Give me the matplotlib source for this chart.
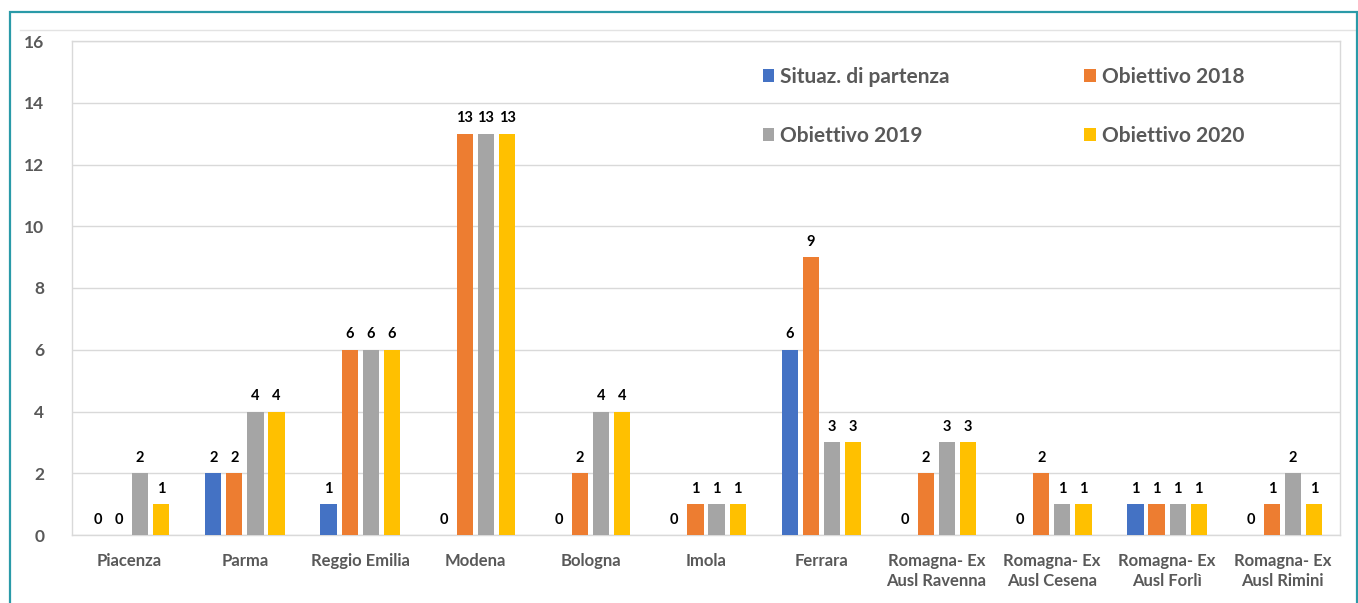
import matplotlib
matplotlib.use("Agg")
import matplotlib.pyplot as plt
import numpy as np
from matplotlib.patches import Rectangle
from matplotlib.lines import Line2D

categories = ["Piacenza", "Parma", "Reggio Emilia", "Modena", "Bologna", "Imola",
              "Ferrara", "Romagna- Ex\nAusl Ravenna", "Romagna- Ex\nAusl Cesena",
              "Romagna- Ex\nAusl Forlì", "Romagna- Ex\nAusl Rimini"]
series_names = ["Situaz. di partenza", "Obiettivo 2018", "Obiettivo 2019", "Obiettivo 2020"]
situaz = [0, 2, 1, 0, 0, 0, 6, 0, 0, 1, 0]
ob2018 = [0, 2, 6, 13, 2, 1, 9, 2, 2, 1, 1]
ob2019 = [2, 4, 6, 13, 4, 1, 3, 3, 1, 1, 2]
ob2020 = [1, 4, 6, 13, 4, 1, 3, 3, 1, 1, 1]
yticks = [0, 2, 4, 6, 8, 10, 12, 14, 16]

colors = ["#4472C4", "#ED7D31", "#A5A5A5", "#FFC000"]
txt_gray = "#595959"
grid_gray = "#D9D9D9"

plt.rcParams['font.family'] = ['Lato', 'DejaVu Sans']

W, H = 1358, 603
fig = plt.figure(figsize=(W / 100, H / 100), dpi=100)
ax = fig.add_axes([72 / W, 1 - 535 / H, (1340 - 72) / W, (535 - 41) / H])

x = np.arange(len(categories))
step = 0.183
width = 0.14
all_series = [situaz, ob2018, ob2019, ob2020]
handles = []
for i, (vals, name, c) in enumerate(zip(all_series, series_names, colors)):
    pos = x + (i - 1.5) * step
    b = ax.bar(pos, vals, width=width, color=c, label=name, zorder=3)
    handles.append(b)
    for p, v in zip(pos, vals):
        ax.annotate(str(v), (p, v), xytext=(0, 6), textcoords="offset points",
                    ha="center", va="bottom", fontsize=10.5, fontweight="bold",
                    color="black", zorder=4)

ax.set_xlim(-0.5, len(categories) - 0.5)
ax.set_ylim(0, 16)
ax.set_yticks(yticks)
ax.set_yticklabels([str(t) for t in yticks], fontsize=12.5, fontweight="bold", color=txt_gray)
ax.set_xticks(x)
ax.set_xticklabels(categories, fontsize=12, fontweight="bold", color=txt_gray, linespacing=1.3)
ax.tick_params(axis="both", length=0)
ax.tick_params(axis="x", pad=13)
ax.tick_params(axis="y", pad=20)
ax.grid(axis="y", color=grid_gray, linewidth=1, zorder=0)
for s in ax.spines.values():
    s.set_color(grid_gray)
    s.set_linewidth(1)
ax.set_axisbelow(True)

order = [0, 2, 1, 3]
leg = ax.legend([handles[k] for k in order], [series_names[k] for k in order],
                ncol=2, loc="upper left", bbox_to_anchor=(0.530, 0.985),
                frameon=False, handlelength=0.55, handleheight=0.6,
                handletextpad=0.3, columnspacing=6.45, labelspacing=1.85,
                prop={"weight": "bold", "size": 15})
for t in leg.get_texts():
    t.set_color(txt_gray)

# Outer frame and top rule
fig.patches.append(Rectangle((10 / W, -0.05), (1357 - 10) / W, 1 - 12 / H + 0.05,
                             transform=fig.transFigure, fill=False,
                             edgecolor="#2A9AA8", linewidth=1.6, zorder=10))
fig.lines.append(Line2D([20 / W, 1356 / W], [1 - 30 / H, 1 - 30 / H],
                        transform=fig.transFigure, color="#E3E3E3", linewidth=1))

fig.savefig("out.png", dpi=100, facecolor="white")
